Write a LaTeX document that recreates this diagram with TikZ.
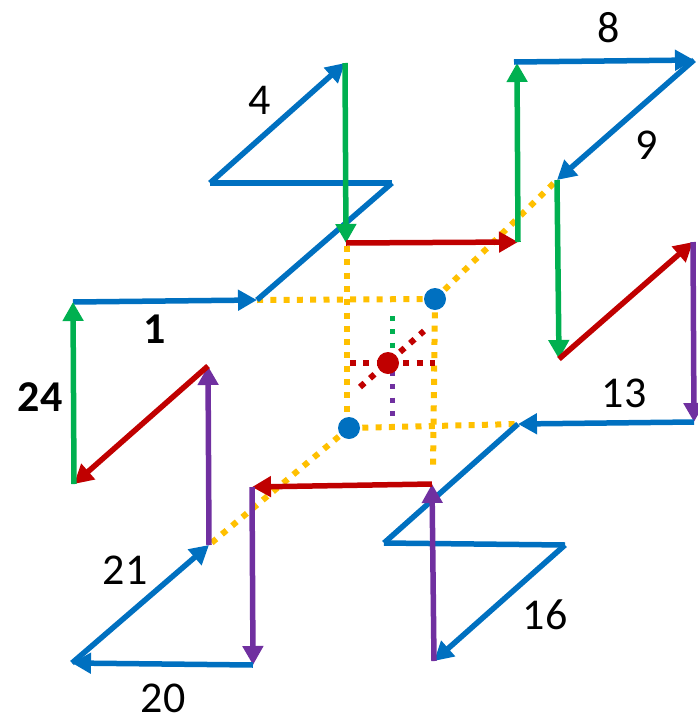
\documentclass[tikz,border=0pt]{standalone}
\usepackage{fontspec}
\setmainfont{Carlito}
\usetikzlibrary{arrows.meta}
\definecolor{cblue}{HTML}{0070C0}
\definecolor{cgreen}{HTML}{00B050}
\definecolor{cred}{HTML}{C00000}
\definecolor{cpurple}{HTML}{7030A0}
\definecolor{cyellow}{HTML}{FFC000}
\begin{document}
\begin{tikzpicture}[x=1pt,y=-1pt,
  seg/.style={line width=5.5pt},
  arr/.style={seg,-{Triangle[length=19pt,width=20pt]}},
  dots/.style={line width=6pt,dash pattern=on 6pt off 7.3pt},
  lbl/.style={font=\fontsize{44}{50}\selectfont,inner sep=0pt}]
\useasboundingbox (0,0) rectangle (697,718);
% path points
\coordinate (p1) at (73,302);
\coordinate (p2) at (257,300);
\coordinate (p3) at (392,183);
\coordinate (p4) at (210,183);
\coordinate (p5) at (345,63);
\coordinate (p6) at (346,243);
\coordinate (p7) at (518,242);
\coordinate (p8) at (517,63);
\coordinate (p8s) at (514,62);
\coordinate (p9) at (694,60);
\coordinate (p10) at (557,180);
\coordinate (p11) at (559,359);
\coordinate (p12) at (693,242);
\coordinate (p13) at (694,422);
\coordinate (p14) at (518,424);
\coordinate (p15) at (384,543);
\coordinate (p16) at (565,545);
\coordinate (p17) at (434,661);
\coordinate (p18) at (432,484);
\coordinate (p19) at (252,487);
\coordinate (p20) at (253,665);
\coordinate (p21) at (72,663);
\coordinate (p22) at (209,545);
\coordinate (p23) at (208,366);
\coordinate (p24) at (74,484);
% centre points
\coordinate (d1) at (435,299);
\coordinate (d2) at (349,428);
\coordinate (rc) at (388,363);
\coordinate (v1t) at (347,246);
\coordinate (v1b) at (347,428);
\coordinate (v2b) at (433,470);
\coordinate (rh1) at (350,363);
\coordinate (rh2) at (435,363);
\coordinate (rd1) at (360,387);
\coordinate (rd2) at (424,331);
\coordinate (gv1) at (392,316);
\coordinate (gv2) at (392,350);
\coordinate (pv1) at (392,371);
\coordinate (pv2) at (392,418);
% yellow dotted guides
\draw[dots,cyellow] (p2) -- (d1);
\draw[dots,cyellow] (v1t) -- (v1b);
\draw[dots,cyellow] (d1) -- (v2b);
\draw[dots,cyellow] (d2) -- (p14);
\draw[dots,cyellow] (d1) -- (p10);
\draw[dots,cyellow] (d2) -- (p22);
% small dotted centre lines
\draw[dots,cred] (rh1) -- (rh2);
\draw[dots,cred] (rd1) -- (rd2);
\draw[line width=5pt,dash pattern=on 5pt off 8.3pt,cgreen] (gv1) -- (gv2);
\draw[line width=5pt,dash pattern=on 5pt off 8.3pt,cpurple] (pv1) -- (pv2);
% dots
\node[circle,fill=cblue,inner sep=0pt,minimum size=22pt] (n1) at (d1) {};
\node[circle,fill=cblue,inner sep=0pt,minimum size=22pt] (n2) at (d2) {};
\node[circle,fill=cred,inner sep=0pt,minimum size=22pt] (n3) at (rc) {};
% the walk
\draw[arr,cblue] (p1) -- (p2);
\draw[seg,cblue] (p2) -- (p3);
\draw[seg,cblue] (p3) -- (p4);
\draw[arr,cblue] (p4) -- (p5);
\draw[arr,cgreen] (p5) -- (p6);
\draw[arr,cred] (p6) -- (p7);
\draw[arr,cgreen] (p7) -- (p8);
\draw[arr,cblue] (p8s) -- (p9);
\draw[arr,cblue] (p9) -- (p10);
\draw[arr,cgreen] (p10) -- (p11);
\draw[arr,cred] (p11) -- (p12);
\draw[arr,cpurple] (p12) -- (p13);
\draw[arr,cblue] (p13) -- (p14);
\draw[seg,cblue] (p14) -- (p15);
\draw[seg,cblue] (p15) -- (p16);
\draw[arr,cblue] (p16) -- (p17);
\draw[arr,cpurple] (p17) -- (p18);
\draw[arr,cred] (p18) -- (p19);
\draw[arr,cpurple] (p19) -- (p20);
\draw[arr,cblue] (p20) -- (p21);
\draw[arr,cblue] (p21) -- (p22);
\draw[arr,cpurple] (p22) -- (p23);
\draw[arr,cred] (p23) -- (p24);
\draw[arr,cgreen] (p24) -- (p1);
% labels
\node[lbl] (l1) at (155,329) {\textbf{1}};
\node[lbl] (l4) at (260,100) {4};
\node[lbl] (l8) at (609,28) {8};
\node[lbl] (l9) at (647,145) {9};
\node[lbl] (l13) at (624,393) {13};
\node[lbl] (l16) at (545,615) {16};
\node[lbl] (l20) at (163,698) {20};
\node[lbl] (l21) at (125,570) {21};
\node[lbl] (l24) at (40,397) {\textbf{24}};
\end{tikzpicture}
\end{document}
